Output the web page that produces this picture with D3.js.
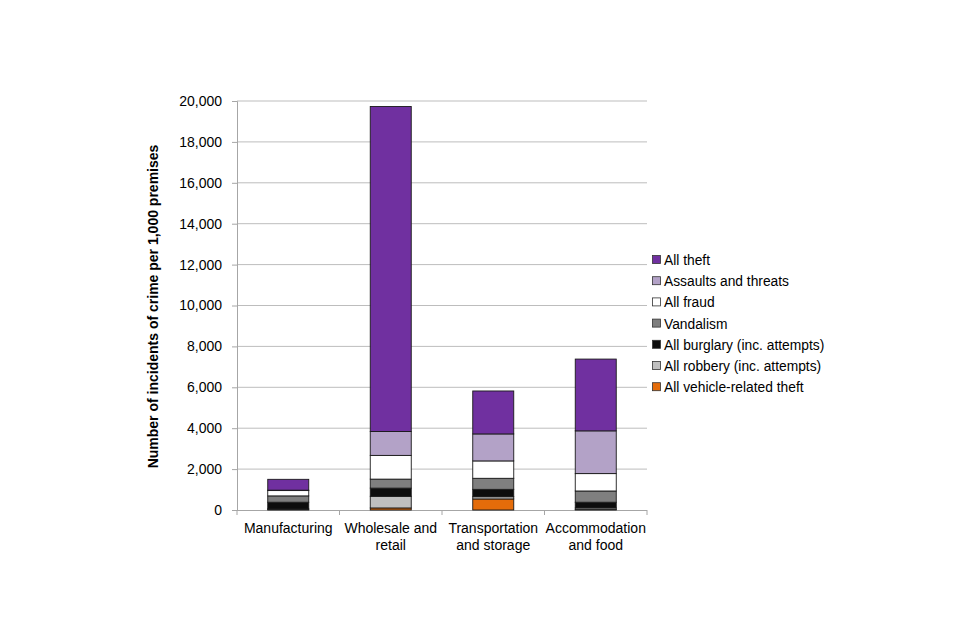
<!DOCTYPE html>
<html>
<head>
<meta charset="utf-8">
<script src="https://cdn.jsdelivr.net/npm/d3@7"></script>
<style>
  html, body { margin: 0; padding: 0; background: #fff; }
  svg { display: block; font-family: "Liberation Sans", Arial, sans-serif; }
</style>
</head>
<body>
<svg id="chart" width="960" height="640"></svg>
<script>
const categories = [["Manufacturing"], ["Wholesale and", "retail"], ["Transportation", "and storage"], ["Accommodation", "and food"]];
const seriesNames = ["All vehicle-related theft", "All robbery (inc. attempts)", "All burglary (inc. attempts)", "Vandalism", "All fraud", "Assaults and threats", "All theft"];
const seriesColors = ["#E46C0A", "#BFBFBF", "#0D0D0D", "#7F7F7F", "#FFFFFF", "#B3A2C7", "#7030A0"];
const vehicleTheft = [40, 100, 540, 20];
const robbery = [10, 570, 110, 80];
const burglary = [330, 400, 360, 280];
const vandalism = [310, 440, 540, 550];
const fraud = [260, 1160, 850, 850];
const assaults = [20, 1170, 1320, 2090];
const theft = [530, 15890, 2100, 3510];
const yTicks = [0, 2000, 4000, 6000, 8000, 10000, 12000, 14000, 16000, 18000, 20000];

const seriesValues = [vehicleTheft, robbery, burglary, vandalism, fraud, assaults, theft];
const rows = categories.map((c, i) => {
  const r = { key: i };
  seriesNames.forEach((s, j) => r[s] = seriesValues[j][i]);
  return r;
});

const svg = d3.select("#chart");
const pLeft = 237, pRight = 647, pTop = 101, pBottom = 510;

const x = d3.scaleBand().domain(d3.range(categories.length)).range([pLeft, pRight]).paddingInner(0.6).paddingOuter(0.3);
const y = d3.scaleLinear().domain([0, 20000]).range([pBottom, pTop]);

// gridlines
svg.append("g").selectAll("line").data(yTicks.filter(d => d > 0)).join("line")
  .attr("x1", pLeft).attr("x2", pRight)
  .attr("y1", d => y(d)).attr("y2", d => y(d))
  .attr("stroke", "#BDBDBD").attr("stroke-width", 1);

// y axis
const yAxis = svg.append("g").attr("transform", `translate(${pLeft},0)`)
  .call(d3.axisLeft(y).tickValues(yTicks).tickFormat(d3.format(",")).tickSize(5).tickPadding(10));
yAxis.select(".domain").attr("stroke", "#A6A6A6");
yAxis.selectAll(".tick line").attr("stroke", "#A6A6A6");
yAxis.selectAll("text").attr("font-size", 14).attr("fill", "#000").attr("font-family", "Liberation Sans, Arial, sans-serif");

// x axis
const xEdge = d3.scaleLinear().domain([0, categories.length]).range([pLeft, pRight]);
svg.append("line").attr("x1", pLeft).attr("x2", pRight).attr("y1", pBottom + 0.5).attr("y2", pBottom + 0.5).attr("stroke", "#A6A6A6");
svg.append("g").selectAll("line").data(d3.range(categories.length + 1)).join("line")
  .attr("x1", d => xEdge(d)).attr("x2", d => xEdge(d))
  .attr("y1", pBottom).attr("y2", pBottom + 5)
  .attr("stroke", "#A6A6A6");

// bars
const stack = d3.stack().keys(seriesNames)(rows);
svg.append("g").selectAll("g").data(stack).join("g")
  .attr("fill", (d, i) => seriesColors[i])
  .selectAll("rect").data(d => d).join("rect")
  .attr("x", (d, i) => x(i))
  .attr("width", x.bandwidth())
  .attr("y", d => y(d[1]))
  .attr("height", d => Math.max(0, y(d[0]) - y(d[1])))
  .attr("stroke", "#1a1a1a").attr("stroke-width", 0.9);

// x labels
const xl = svg.append("g").selectAll("text").data(categories).join("text")
  .attr("x", (d, i) => x(i) + x.bandwidth() / 2)
  .attr("y", 533)
  .attr("text-anchor", "middle").attr("font-size", 14).attr("fill", "#000");
xl.selectAll("tspan").data(d => d).join("tspan")
  .attr("x", function () { return d3.select(this.parentNode).attr("x"); })
  .attr("dy", (d, i) => i === 0 ? 0 : 16.5)
  .text(d => d);

// y title
svg.append("text")
  .attr("transform", `translate(158,${(pTop + pBottom) / 2 + 1}) rotate(-90)`)
  .attr("text-anchor", "middle").attr("font-size", 14).attr("font-weight", "bold").attr("fill", "#000")
  .text("Number of incidents of crime per 1,000 premises");

// legend (top item = last series)
const legendOrder = d3.range(seriesNames.length).reverse();
const lg = svg.append("g").selectAll("g").data(legendOrder).join("g")
  .attr("transform", (d, i) => `translate(652,${260 + i * 21.2})`);
lg.append("rect").attr("x", 0.5).attr("y", -4.5).attr("width", 8).attr("height", 8)
  .attr("fill", d => seriesColors[d]).attr("stroke", "#333").attr("stroke-width", 0.8);
lg.append("text").attr("x", 12).attr("y", 5).attr("font-size", 13.8).attr("fill", "#000")
  .text(d => seriesNames[d]);
</script>
</body>
</html>
